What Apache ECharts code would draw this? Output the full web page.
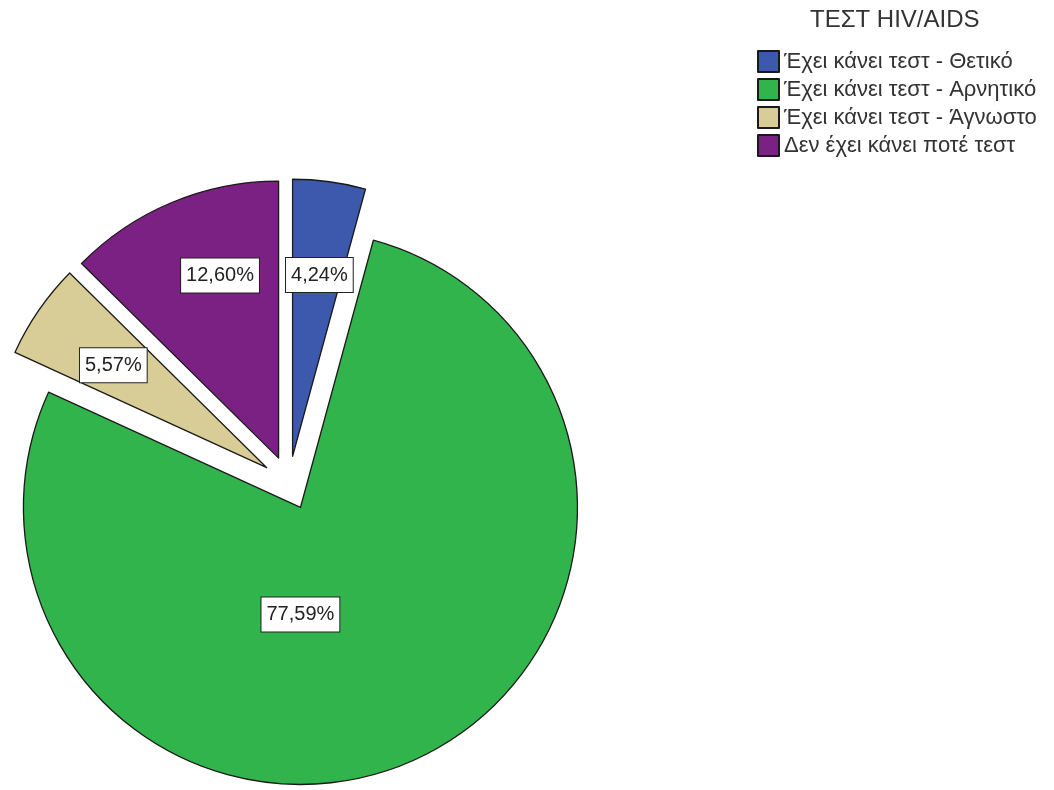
<!DOCTYPE html>
<html>
<head>
<meta charset="utf-8">
<script src="https://cdn.jsdelivr.net/npm/echarts@6/dist/echarts.min.js"></script>
<style>html,body{margin:0;padding:0;background:#fff}#c{width:1054px;height:790px}</style>
</head>
<body>
<div id="c"></div>
<script>
const legendTitle = 'ΤΕΣΤ HIV/AIDS';
const categories = ['Έχει κάνει τεστ - Θετικό', 'Έχει κάνει τεστ - Αρνητικό', 'Έχει κάνει τεστ - Άγνωστο', 'Δεν έχει κάνει ποτέ τεστ'];
const percents = [4.24, 77.59, 5.57, 12.60];
const colors = ['#3D59AD', '#30B44B', '#D8CD96', '#7B2184'];
// label nudges (px) to mimic SPSS label placement
const labelNudgeX = [8, -60, -37, -4];
const labelNudgeY = [-41, -21, -22, -52];

const chart = echarts.init(document.getElementById('c'), null, {renderer: 'canvas'});
const font = '"Liberation Sans", Arial, sans-serif';
chart.setOption({
  animation: false,
  title: {
    text: legendTitle, left: 810, top: 8, padding: 0,
    textStyle: {fontFamily: font, fontSize: 24, fontWeight: 'normal', color: '#333'}
  },
  legend: {
    orient: 'vertical', left: 757, top: 50, padding: 0,
    itemWidth: 21, itemHeight: 21, itemGap: 5, icon: 'rect',
    selectedMode: false,
    textStyle: {fontFamily: font, fontSize: 22, color: '#333'},
    data: categories
  },
  series: [{
    type: 'pie',
    center: [289, 483],
    radius: 277,
    startAngle: 90,
    clockwise: true,
    selectedMode: 'multiple',
    selectedOffset: 27,
    silent: true,
    itemStyle: {borderColor: '#1a1a1a', borderWidth: 1.3},
    label: {
      show: true, position: 'inside',
      formatter: p => p.value.toFixed(2).replace('.', ',') + '%',
      fontFamily: font, fontSize: 20, color: '#222',
      backgroundColor: '#fff', borderColor: '#222', borderWidth: 1,
      padding: [6, 5], lineHeight: 22
    },
    labelLine: {show: false},
    labelLayout: p => ({dx: labelNudgeX[p.dataIndex], dy: labelNudgeY[p.dataIndex]}),
    emphasis: {disabled: true},
    select: {itemStyle: {borderColor: '#1a1a1a', borderWidth: 1.3}},
    data: categories.map((c, i) => ({
      name: c, value: percents[i], selected: true,
      itemStyle: {color: colors[i]}
    }))
  }]
});
</script>
</body>
</html>
